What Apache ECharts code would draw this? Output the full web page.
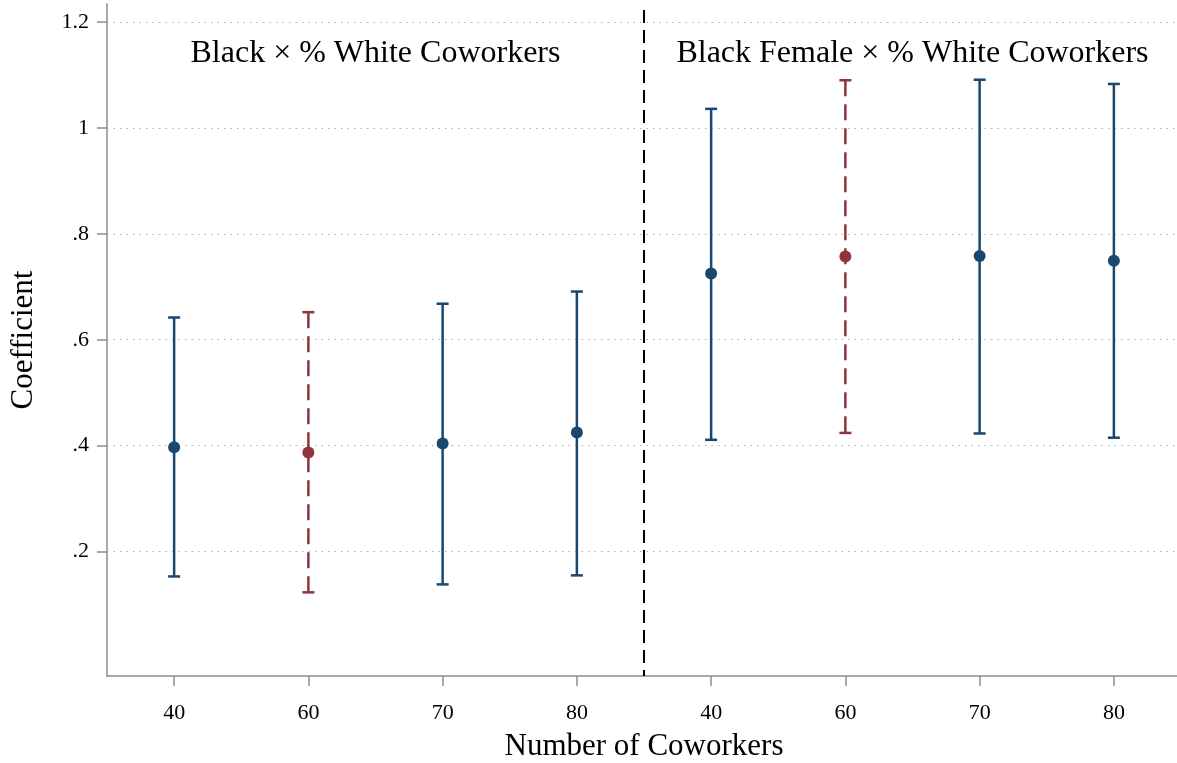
<!DOCTYPE html>
<html>
<head>
<meta charset="utf-8">
<script src="https://cdn.jsdelivr.net/npm/echarts@6/dist/echarts.min.js"></script>
<style>
html,body{margin:0;padding:0;background:#fff;}
#chart{width:1177px;height:763px;}
</style>
</head>
<body>
<div id="chart"></div>
<script>
// ---- data ----
const categories = ['40', '60', '70', '80', '40', '60', '70', '80'];
const coef  = [0.397, 0.387, 0.404, 0.425, 0.725, 0.757, 0.758, 0.749];
const lower = [0.153, 0.123, 0.138, 0.155, 0.411, 0.424, 0.423, 0.415];
const upper = [0.642, 0.652, 0.668, 0.691, 1.036, 1.090, 1.091, 1.083];
const highlighted = [false, true, false, false, false, true, false, false];
const yTicks = [0.2, 0.4, 0.6, 0.8, 1, 1.2];
const panelTitles = ['Black \u00d7 % White Coworkers', 'Black Female \u00d7 % White Coworkers'];
const dividerBetween = [3, 4];

// ---- style ----
const NAVY = '#1a476f';
const MAROON = '#90353b';
const FONT = '"Liberation Serif", "Times New Roman", serif';
const Y_MIN = -0.035, Y_MAX = 1.234;

const chart = echarts.init(document.getElementById('chart'), null, {renderer: 'canvas'});

const errData = categories.map((c, i) => [i, lower[i], upper[i], highlighted[i] ? 1 : 0]);
const pointData = categories.map((c, i) => ({
  value: [i, coef[i]],
  itemStyle: {color: highlighted[i] ? MAROON : NAVY, opacity: 1}
}));

function fmt(v) {
  let s = String(+v.toFixed(2));
  if (s.startsWith('0.')) s = s.slice(1);
  return s;
}

const option = {
  backgroundColor: '#fff',
  animation: false,
  grid: {left: 107, right: -4, top: 4, bottom: 87, containLabel: false, outerBoundsMode: 'none'},
  xAxis: {
    type: 'category',
    data: categories,
    boundaryGap: true,
    name: 'Number of Coworkers',
    nameLocation: 'middle',
    nameGap: 55,
    nameTextStyle: {fontFamily: FONT, fontSize: 31, color: '#000'},
    axisLine: {onZero: false, lineStyle: {color: '#8c8c8c', width: 1.5}},
    axisTick: {show: true, alignWithLabel: true, length: 10, lineStyle: {color: '#8c8c8c', width: 1.5}},
    axisLabel: {fontFamily: FONT, fontSize: 22, color: '#000', margin: 26, interval: 0},
    splitLine: {show: false}
  },
  yAxis: {
    type: 'value',
    min: Y_MIN,
    max: Y_MAX,
    name: 'Coefficient',
    nameLocation: 'middle',
    nameGap: 68,
    nameRotate: 90,
    nameTextStyle: {fontFamily: FONT, fontSize: 31, color: '#000'},
    axisLine: {show: true, lineStyle: {color: '#8c8c8c', width: 1.5}},
    axisTick: {show: true, length: 10, customValues: yTicks, lineStyle: {color: '#8c8c8c', width: 1.5}},
    axisLabel: {fontFamily: FONT, fontSize: 22, color: '#000', margin: 18, customValues: yTicks, formatter: fmt},
    splitLine: {show: false}
  },
  series: [
    {
      type: 'custom',
      name: 'ci',
      data: errData,
      z: 3,
      renderItem: function (params, api) {
        const x = api.value(0);
        const lo = api.coord([x, api.value(1)]);
        const hi = api.coord([x, api.value(2)]);
        const alt = api.value(3) === 1;
        const color = alt ? MAROON : NAVY;
        const cap = 6;
        const style = {stroke: color, lineWidth: 2.5, fill: null};
        const dashStyle = alt ? Object.assign({}, style, {lineDash: [16, 8]}) : style;
        return {
          type: 'group',
          children: [
            {type: 'line', shape: {x1: hi[0], y1: hi[1], x2: lo[0], y2: lo[1]}, style: dashStyle},
            {type: 'line', shape: {x1: hi[0] - cap, y1: hi[1], x2: hi[0] + cap, y2: hi[1]}, style: style},
            {type: 'line', shape: {x1: lo[0] - cap, y1: lo[1], x2: lo[0] + cap, y2: lo[1]}, style: style}
          ]
        };
      }
    },
    {
      type: 'custom',
      name: 'divider',
      data: [dividerBetween],
      z: 2,
      renderItem: function (params, api) {
        const a = api.coord([api.value(0), Y_MAX]);
        const b = api.coord([api.value(1), Y_MIN]);
        const x = (a[0] + b[0]) / 2;
        const cs = params.coordSys;
        return {
          type: 'line',
          shape: {x1: x, y1: cs.y + 6, x2: x, y2: cs.y + cs.height},
          style: {stroke: '#000', lineWidth: 2, lineDash: [13, 7]}
        };
      }
    },
    {
      type: 'custom',
      name: 'panelTitles',
      data: [[0, 3], [4, 7]],
      z: 4,
      renderItem: function (params, api) {
        const cs = params.coordSys;
        const i = params.dataIndex;
        const left = api.coord([api.value(0), Y_MAX]);
        const right = api.coord([api.value(1), Y_MAX]);
        const bw = api.size([1, 0])[0];
        const x0 = i === 0 ? cs.x : (left[0] - bw / 2);
        const x1 = i === 0 ? (right[0] + bw / 2) : cs.x + cs.width;
        return {
          type: 'text',
          style: {
            text: panelTitles[i],
            x: (x0 + x1) / 2,
            y: cs.y + 50,
            align: 'center',
            verticalAlign: 'middle',
            fontFamily: FONT,
            fontSize: 32,
            fill: '#000'
          }
        };
      }
    },
    {
      type: 'scatter',
      name: 'coef',
      data: pointData,
      symbol: 'circle',
      symbolSize: 12,
      z: 5,
      markLine: {
        silent: true,
        symbol: ['none', 'none'],
        label: {show: false},
        lineStyle: {color: '#b0b0b0', width: 1.2, type: [1.5, 5]},
        data: yTicks.map(v => ({yAxis: v})),
        z: 1
      }
    }
  ]
};

chart.setOption(option);
</script>
</body>
</html>
